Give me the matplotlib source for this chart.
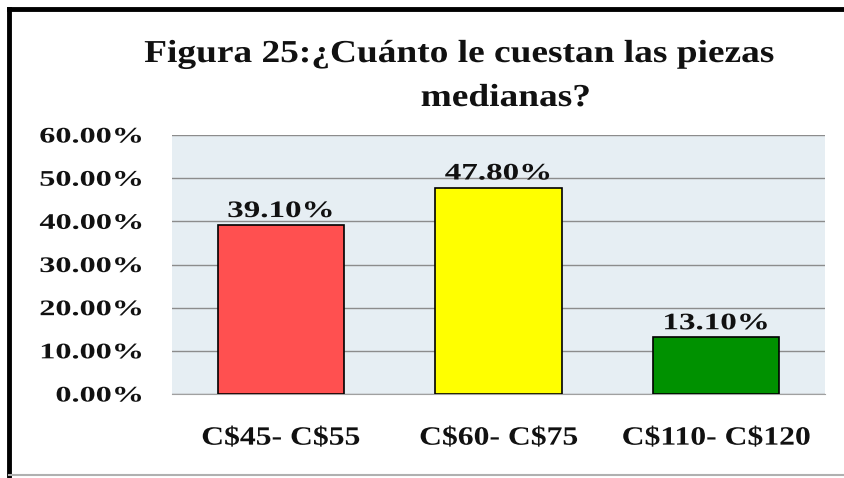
import matplotlib.pyplot as plt
from matplotlib import patheffects
from matplotlib.lines import Line2D
from matplotlib.ticker import FuncFormatter
from matplotlib.transforms import Affine2D

# chart data
categories = ["C\\$45- C\\$55", "C\\$60- C\\$75", "C\\$110- C\\$120"]
values = [39.10, 47.80, 13.10]
bar_colors = ["#FF5050", "#FFFF00", "#009100"]
title_lines = ["Figura 25:¿Cuánto le cuestan las piezas", "medianas?"]

plt.rcParams["font.family"] = ["Liberation Serif", "DejaVu Serif"]
plt.rcParams["font.weight"] = "bold"

W, H = 844, 478
INK = "#111111"


# the source picture is stretched sideways, so widen the glyphs the same way
class Stretch(patheffects.AbstractPathEffect):
    def __init__(self, text, sx):
        super().__init__()
        self.text = text
        self.sx = sx

    def draw_path(self, renderer, gc, tpath, affine, rgbFace=None):
        bb = self.text.get_window_extent(renderer)
        ha = self.text.get_horizontalalignment()
        cx = {"left": bb.x0, "right": bb.x1}.get(ha, (bb.x0 + bb.x1) / 2)
        aff = affine + Affine2D().translate(-cx, 0).scale(self.sx, 1).translate(cx, 0)
        renderer.draw_path(gc, tpath, aff, rgbFace)


def stretch(t, sx):
    t.set_path_effects([Stretch(t, sx)])


fig = plt.figure(figsize=(W / 100, H / 100), dpi=100)
fig.patch.set_facecolor("white")

# plot area placement (pixels -> fractions)
left, right, top, bottom = 172, 825, 135, 394
ax = fig.add_axes([left / W, 1 - bottom / H, (right - left) / W, (bottom - top) / H])
ax.set_facecolor("#E6EEF3")

x = range(len(categories))
ax.bar(x, values, width=0.58, color=bar_colors, edgecolor="black",
       linewidth=1.2, zorder=3)

for xi, v in zip(x, values):
    t = ax.text(xi, v + 1.9, f"{v:.2f}%", ha="center", va="baseline",
                fontsize=17, fontweight="bold", color=INK, zorder=4)
    stretch(t, 1.4)

ax.set_xlim(-0.5, len(categories) - 0.5)
ax.set_ylim(0, 60)
ax.set_yticks(range(0, 61, 10))
ax.yaxis.set_major_formatter(FuncFormatter(lambda v, p: f"{v:.2f}%"))
ax.grid(axis="y", color="#8C8C8C", linewidth=1.0, zorder=1)
ax.set_axisbelow(True)

ax.set_xticks(list(x))
ax.set_xticklabels(categories)
ax.tick_params(axis="x", length=0, pad=23.5, labelsize=19)
ax.tick_params(axis="y", length=0, pad=20, labelsize=16)
for lab in ax.get_xticklabels():
    lab.set_fontweight("bold")
    lab.set_color(INK)
    stretch(lab, 1.2)
for tk in ax.yaxis.get_major_ticks():
    tk.label1.set_fontweight("bold")
    tk.label1.set_color(INK)
    stretch(tk.label1, 1.45)

for side in ["top", "right", "left"]:
    ax.spines[side].set_visible(False)
ax.spines["bottom"].set_color("#A0A0A0")

# title, two lines as in the source
t1 = fig.text(460 / W, 1 - 62 / H, title_lines[0], ha="center", va="baseline",
              fontsize=23, fontweight="bold", color=INK)
t2 = fig.text(506 / W, 1 - 106 / H, title_lines[1], ha="center", va="baseline",
              fontsize=23, fontweight="bold", color=INK)
stretch(t1, 1.17)
stretch(t2, 1.17)

# frame: black left/top, gray bottom
fig.add_artist(Line2D([9 / W, 9 / W], [0, 1 - 9 / H], color="black",
                      linewidth=3.5, transform=fig.transFigure))
fig.add_artist(Line2D([9 / W, 1], [1 - 9 / H, 1 - 9 / H], color="black",
                      linewidth=3.5, transform=fig.transFigure))
fig.add_artist(Line2D([9 / W, 1], [1 - 475 / H, 1 - 475 / H], color="#B0B0B0",
                      linewidth=1.5, transform=fig.transFigure))

fig.savefig("out.png", dpi=100)
